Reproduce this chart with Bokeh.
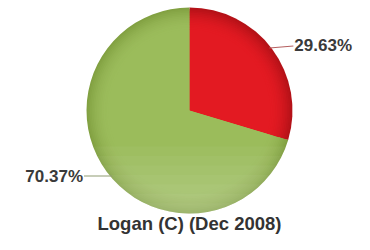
import numpy as np
from bokeh.plotting import figure
from bokeh.models import Range1d
from bokeh.core.properties import value
from bokeh.embed import file_html
from bokeh.resources import INLINE

# data
categories = ["C", "Other"]
shares = [29.63, 70.37]
labels = ["29.63%", "70.37%"]
title_text = "Logan (C) (Dec 2008)"

W, H = 354, 234
p = figure(width=W, height=H, output_backend="svg", toolbar_location=None,
           x_range=Range1d(0, W), y_range=Range1d(0, H), min_border=0)
p.axis.visible = False
p.grid.visible = False
p.outline_line_color = None
p.background_fill_color = "white"
p.border_fill_color = "white"

cx, cy, R = 189, H - 110, 103
fr = np.array(shares) / sum(shares)
ends = np.cumsum(fr)
starts = ends - fr
start_ang = np.pi / 2 - 2 * np.pi * starts
end_ang = np.pi / 2 - 2 * np.pi * ends

# shaded rings (outer darker, inner lighter)
rim = [np.array([0xb4, 0x12, 0x18]), np.array([0x82, 0xa1, 0x42])]
core = [np.array([0xe3, 0x1a, 0x22]), np.array([0x9b, 0xbc, 0x5b])]
n = 14
for k in range(n):
    t = k / (n - 1)
    rr = R - 22 * t
    w = 1 - (1 - t) ** 2
    cols = []
    for j in range(2):
        c = rim[j] * (1 - w) + core[j] * w
        cols.append("#%02x%02x%02x" % tuple(int(round(v)) for v in c))
    p.wedge(x=[cx] * 2, y=[cy] * 2, radius=rr, start_angle=list(start_ang),
            end_angle=list(end_ang), direction="clock", fill_color=cols,
            line_color=None)

# soft lighter lower part of the disc (below the red slice)
for depth in np.linspace(-0.35, -0.9, 7):
    a = np.arcsin(depth)
    th = np.linspace(np.pi - a, 2 * np.pi + a, 80)
    p.patch(cx + R * np.cos(th), cy + R * np.sin(th), fill_color="white",
            fill_alpha=0.04, line_color=None)

# leader lines and labels
mid = (start_ang + end_ang) / 2
offsets = [-1, 4]
for i, lab in enumerate(labels):
    side = 1 if np.cos(mid[i]) >= 0 else -1
    ay = cy + R * np.sin(mid[i]) - offsets[i]
    ax = cx + side * np.sqrt(R ** 2 - (ay - cy) ** 2)
    lx = ax + side * (22 if i == 0 else 26)
    rise = 2 if i == 0 else 0
    lc = "#b56060" if i == 0 else "#8f9c72"
    p.line([ax - side * 2, lx], [ay, ay + rise], line_color=lc, line_width=1.2)
    p.text(x=[lx + side * 1], y=[ay + rise], text=[lab],
           text_align="left" if side > 0 else "right", text_baseline="middle",
           text_font=value("Liberation Sans"), text_font_style="bold",
           text_font_size="17px", text_color="#3a3a3a")

p.text(x=[cx], y=[1], text=[title_text], text_align="center", text_baseline="bottom",
       text_font=value("Liberation Sans"), text_font_style="bold",
       text_font_size="18.5px", text_color="#333333")

open("out.html", "w").write(file_html(p, INLINE))
